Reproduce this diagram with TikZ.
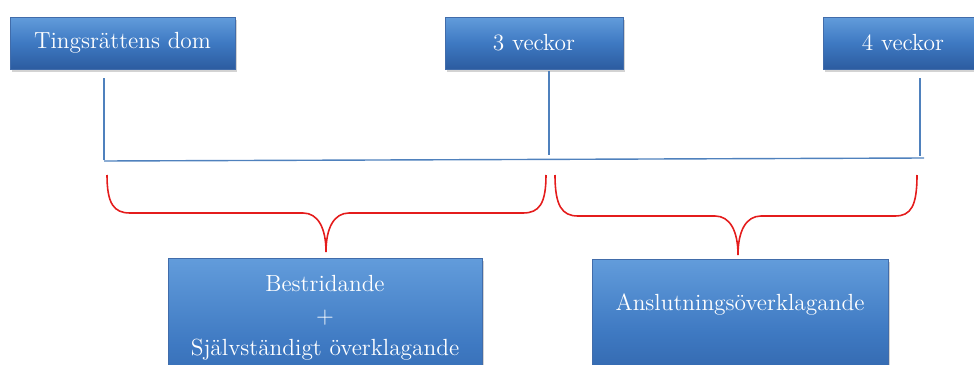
\documentclass[tikz,border=0pt]{standalone}
\usetikzlibrary{shadows}

\definecolor{boxtop}{RGB}{98,156,219}
\definecolor{boxmid}{RGB}{62,121,194}
\definecolor{boxbot}{RGB}{44,92,160}
\definecolor{linjeblue}{RGB}{79,129,189}
\definecolor{klammerred}{RGB}{228,28,28}

\begin{document}
\begin{tikzpicture}[x=0.02cm,y=-0.02cm,
    tidbox/.style={rectangle, top color=boxtop, bottom color=boxbot, middle color=boxmid,
      draw=boxbot!90!white, line width=0.3pt, text=white, align=center,
      font=\fontsize{13.3}{18.2}\selectfont,
      drop shadow={opacity=0.35, shadow xshift=1.2pt, shadow yshift=-1.8pt}},
    tline/.style={draw=linjeblue, line width=0.8pt},
    klammer/.style={draw=klammerred, line width=0.9pt}]
    \useasboundingbox (0,0) rectangle (974,365);

    % tidpunkter
    \node[tidbox, minimum width=4.5cm, minimum height=1.04cm] (dom) at (122.5,43) {Tingsrättens dom};
    \node[tidbox, minimum width=3.56cm, minimum height=1.04cm] (v3) at (534,43) {3 veckor};
    \node[tidbox, minimum width=3.2cm, minimum height=1.04cm] (v4) at (903,43) {4 veckor};

    % tidslinje
    \coordinate (t0) at (104,161);
    \coordinate (t1) at (924,158);
    \coordinate (d0) at (104,78);
    \coordinate (d1) at (104,160);
    \coordinate (w0) at (549,71);
    \coordinate (w1) at (549,155);
    \coordinate (f0) at (920,78);
    \coordinate (f1) at (920,156);
    \draw[tline] (t0) -- (t1);
    \draw[tline] (d0) -- (d1);
    \draw[tline] (w0) -- (w1);
    \draw[tline] (f0) -- (f1);

    % klamrar
    \draw[klammer] (107,175) .. controls (107,204) and (114,213) .. (130,213) -- (303,213)
      .. controls (318,213) and (326,228) .. (326,252)
      .. controls (326,228) and (334,213) .. (349,213) -- (523,213)
      .. controls (539,213) and (546,204) .. (546,175);
    \draw[klammer] (555,175) .. controls (555,206) and (562,216) .. (578,216) -- (715,216)
      .. controls (730,216) and (738,231) .. (738,255)
      .. controls (738,231) and (746,216) .. (761,216) -- (895,216)
      .. controls (911,216) and (917,206) .. (917,175);

    % överklagande
    \node[tidbox, anchor=north, minimum width=6.28cm, text depth=1.2cm, inner ysep=9.5pt] (bestr) at (325,258)
      {Bestridande\\+\\Självständigt överklagande};
    \node[tidbox, anchor=north, minimum width=5.92cm, text height=1.02cm, text depth=1.9cm, inner ysep=0pt] (ansl) at (740,259)
      {Anslutningsöverklagande};
\end{tikzpicture}
\end{document}
